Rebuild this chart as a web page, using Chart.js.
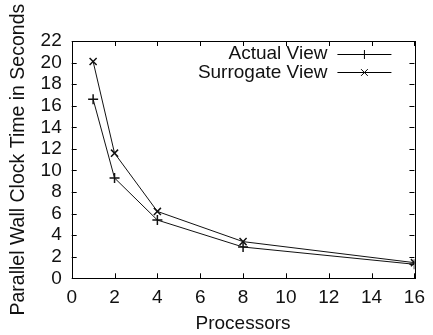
<!DOCTYPE html>
<html><head><meta charset="utf-8">
<script src="https://cdn.jsdelivr.net/npm/chart.js@4"></script>
<style>html,body{margin:0;padding:0;background:#fff}#wrap{width:433px;height:335px}</style>
</head><body><div id="wrap"><canvas id="c" width="433" height="335"></canvas></div>
<script>
const processors = [1, 2, 4, 8, 16];
const actualView = [16.6, 9.3, 5.4, 2.9, 1.3];
const surrogateView = [20.1, 11.6, 6.2, 3.4, 1.45];
const seriesNames = ['Actual View', 'Surrogate View'];
const xTicks = [0, 2, 4, 6, 8, 10, 12, 14, 16];
const yTicks = [0, 2, 4, 6, 8, 10, 12, 14, 16, 18, 20, 22];

const FONT = '"Liberation Sans", Arial, sans-serif';
const FS = 19;

const frame = {
  id: 'frame',
  afterDraw(chart) {
    const ctx = chart.ctx, a = chart.chartArea;
    const xs = chart.scales.x, ys = chart.scales.y;
    ctx.save();
    ctx.strokeStyle = '#000'; ctx.lineWidth = 1;
    ctx.strokeRect(Math.round(a.left) + 0.5, Math.round(a.top) + 0.5, Math.round(a.right - a.left), Math.round(a.bottom - a.top));
    const T = 5;
    ctx.beginPath();
    xTicks.forEach(v => {
      const px = Math.round(xs.getPixelForValue(v)) + 0.5;
      ctx.moveTo(px, a.bottom); ctx.lineTo(px, a.bottom - T);
      ctx.moveTo(px, a.top); ctx.lineTo(px, a.top + T);
    });
    yTicks.forEach(v => {
      const py = Math.round(ys.getPixelForValue(v)) + 0.5;
      ctx.moveTo(a.left, py); ctx.lineTo(a.left + T, py);
      ctx.moveTo(a.right, py); ctx.lineTo(a.right - T, py);
    });
    ctx.stroke();
    // legend
    ctx.font = FS + 'px ' + FONT;
    ctx.fillStyle = '#111'; ctx.textAlign = 'right'; ctx.textBaseline = 'middle';
    const rows = [a.top + 12.5, a.top + 31];
    const x0 = a.right - 77, x1 = a.right - 23, tx = a.right - 87;
    rows.forEach((y, i) => {
      ctx.fillText(seriesNames[i], tx, y + 0.5);
      ctx.beginPath();
      ctx.moveTo(x0, Math.round(y) + 0.5); ctx.lineTo(x1, Math.round(y) + 0.5);
      const mx = (x0 + x1) / 2, my = Math.round(y) + 0.5, r = 4.5;
      if (i === 0) { ctx.moveTo(mx, my - r); ctx.lineTo(mx, my + r); }
      else { const d = r * 0.75; ctx.moveTo(mx - d, my - d); ctx.lineTo(mx + d, my + d); ctx.moveTo(mx - d, my + d); ctx.lineTo(mx + d, my - d); }
      ctx.stroke();
    });
    ctx.restore();
  }
};

new Chart(document.getElementById('c'), {
  type: 'line',
  data: {
    datasets: [
      { label: seriesNames[0], data: processors.map((p, i) => ({x: p, y: actualView[i]})),
        borderColor: '#111', borderWidth: 1, pointStyle: 'cross', pointRadius: 5,
        pointBorderColor: '#111', pointBorderWidth: 1.5, tension: 0 },
      { label: seriesNames[1], data: processors.map((p, i) => ({x: p, y: surrogateView[i]})),
        borderColor: '#111', borderWidth: 1, pointStyle: 'crossRot', pointRadius: 5,
        pointBorderColor: '#111', pointBorderWidth: 1.5, tension: 0 }
    ]
  },
  options: {
    responsive: false, animation: false, devicePixelRatio: 1,
    layout: { padding: { left: 0, right: 12, top: 41, bottom: 0 } },
    plugins: { legend: { display: false }, tooltip: { enabled: false } },
    scales: {
      x: {
        type: 'linear', min: 0, max: 16,
        afterBuildTicks: s => { s.ticks = xTicks.map(v => ({value: v})); },
        afterFit: s => { s.height = 56.7; },
        grid: { display: false, drawTicks: false },
        border: { display: false },
        ticks: { color: '#111', font: { family: FONT, size: FS }, padding: 8, maxRotation: 0, autoSkip: false },
        title: { display: true, text: 'Processors', color: '#111', font: { family: FONT, size: FS }, padding: { top: 3, bottom: 0 } }
      },
      y: {
        type: 'linear', min: 0, max: 22,
        afterBuildTicks: s => { s.ticks = yTicks.map(v => ({value: v})); },
        afterFit: s => { s.width = 71.7; },
        grid: { display: false, drawTicks: false },
        border: { display: false },
        ticks: { color: '#111', font: { family: FONT, size: FS }, padding: 10, autoSkip: false },
        title: { display: true, text: 'Parallel Wall Clock Time in Seconds', color: '#111', font: { family: FONT, size: 19.5 }, padding: { top: 7, bottom: 0 } }
      }
    }
  },
  plugins: [frame]
});
</script>
</body></html>
